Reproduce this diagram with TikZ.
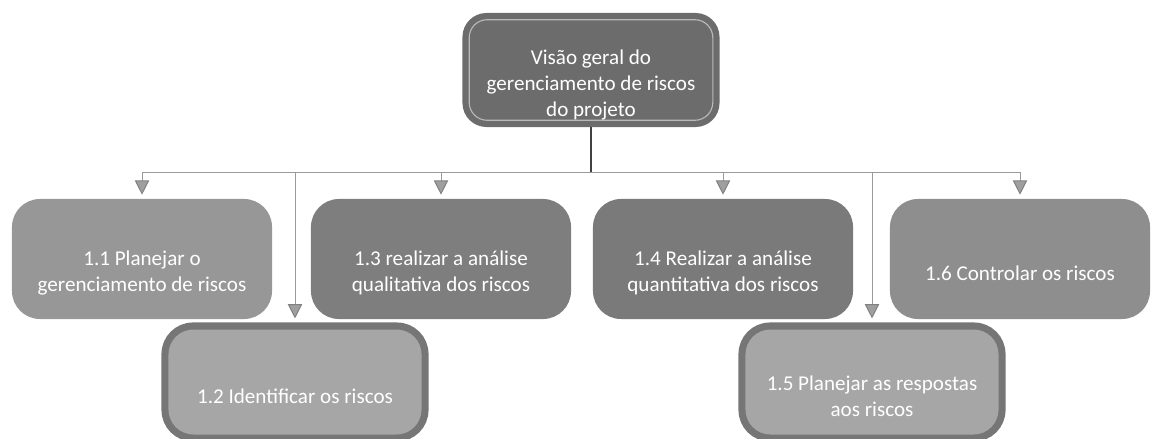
\documentclass[tikz,border=0pt]{standalone}
\usepackage{fontspec}
\setmainfont{Carlito}
\usetikzlibrary{arrows.meta}

\definecolor{topfill}{HTML}{6C6C6C}
\definecolor{fillA}{HTML}{979797}
\definecolor{fillB}{HTML}{7E7E7E}
\definecolor{fillC}{HTML}{7A7A7A}
\definecolor{fillD}{HTML}{8E8E8E}
\definecolor{rimgray}{HTML}{767676}
\definecolor{lightfill}{HTML}{A6A6A6}
\definecolor{busgray}{HTML}{9A9A9A}

\tikzset{
  box/.style={rounded corners=0.7cm, minimum width=6.5cm, minimum height=3cm, inner sep=0pt},
  lowbox/.style={box, minimum height=2.8cm, fill=lightfill, draw=rimgray, line width=5pt},
  lbl/.style={text=white, align=center, font=\fontsize{15}{18.4}\selectfont},
  trunk/.style={draw=black!75, line width=0.8pt},
  branch/.style={draw=busgray, line width=0.7pt, shorten >=0.1cm,
    -{Triangle[width=0.36cm, length=0.36cm, fill=gray!75, color=gray]}}
}

\begin{document}
\begin{tikzpicture}[x=0.025cm, y=-0.025cm]
\useasboundingbox (0,0) rectangle (1152,439);

% topo
\node [box, fill=topfill, minimum width=6.425cm, minimum height=2.85cm, rounded corners=0.6cm] (top) at (591,70) {};
\draw [gray!55, line width=0.8pt, rounded corners=0.45cm] ([shift={(7,7)}]top.north west) rectangle ([shift={(-7,-7)}]top.south east);
\node [lbl] (ltop) at ([yshift=-0.37cm]top.center) {Visão geral do\\gerenciamento de riscos\\do projeto};

% primeira linha
\node [box, fill=fillA] (p11) at (142,259) {};
\node [box, fill=fillB] (p13) at (441,259) {};
\node [box, fill=fillC] (p14) at (723,259) {};
\node [box, fill=fillD] (p16) at (1020,259) {};

% segunda linha
\node [lowbox] (p12) at (295,382) {};
\node [lowbox] (p15) at (872,382) {};

\node [lbl] (l11) at ([yshift=-0.35cm]p11.center) {1.1 Planejar o\\gerenciamento de riscos};
\node [lbl] (l13) at ([yshift=-0.35cm]p13.center) {1.3 realizar a análise\\qualitativa dos riscos};
\node [lbl] (l14) at ([yshift=-0.35cm]p14.center) {1.4 Realizar a análise\\quantitativa dos riscos};
\node [lbl] (l16) at ([yshift=-0.35cm]p16.center) {1.6 Controlar os riscos};
\node [lbl] (l12) at ([yshift=-0.35cm]p12.center) {1.2 Identificar os riscos};
\node [lbl] (l15) at ([yshift=-0.35cm]p15.center) {1.5 Planejar as respostas\\aos riscos};

% ligacoes
\coordinate (bus) at (591,172);
\draw [trunk] (top.south) -- (bus);
\foreach \p in {p11,p12,p13,p14,p15,p16}
  \draw [branch] (bus) -| (\p.north);
\end{tikzpicture}
\end{document}
